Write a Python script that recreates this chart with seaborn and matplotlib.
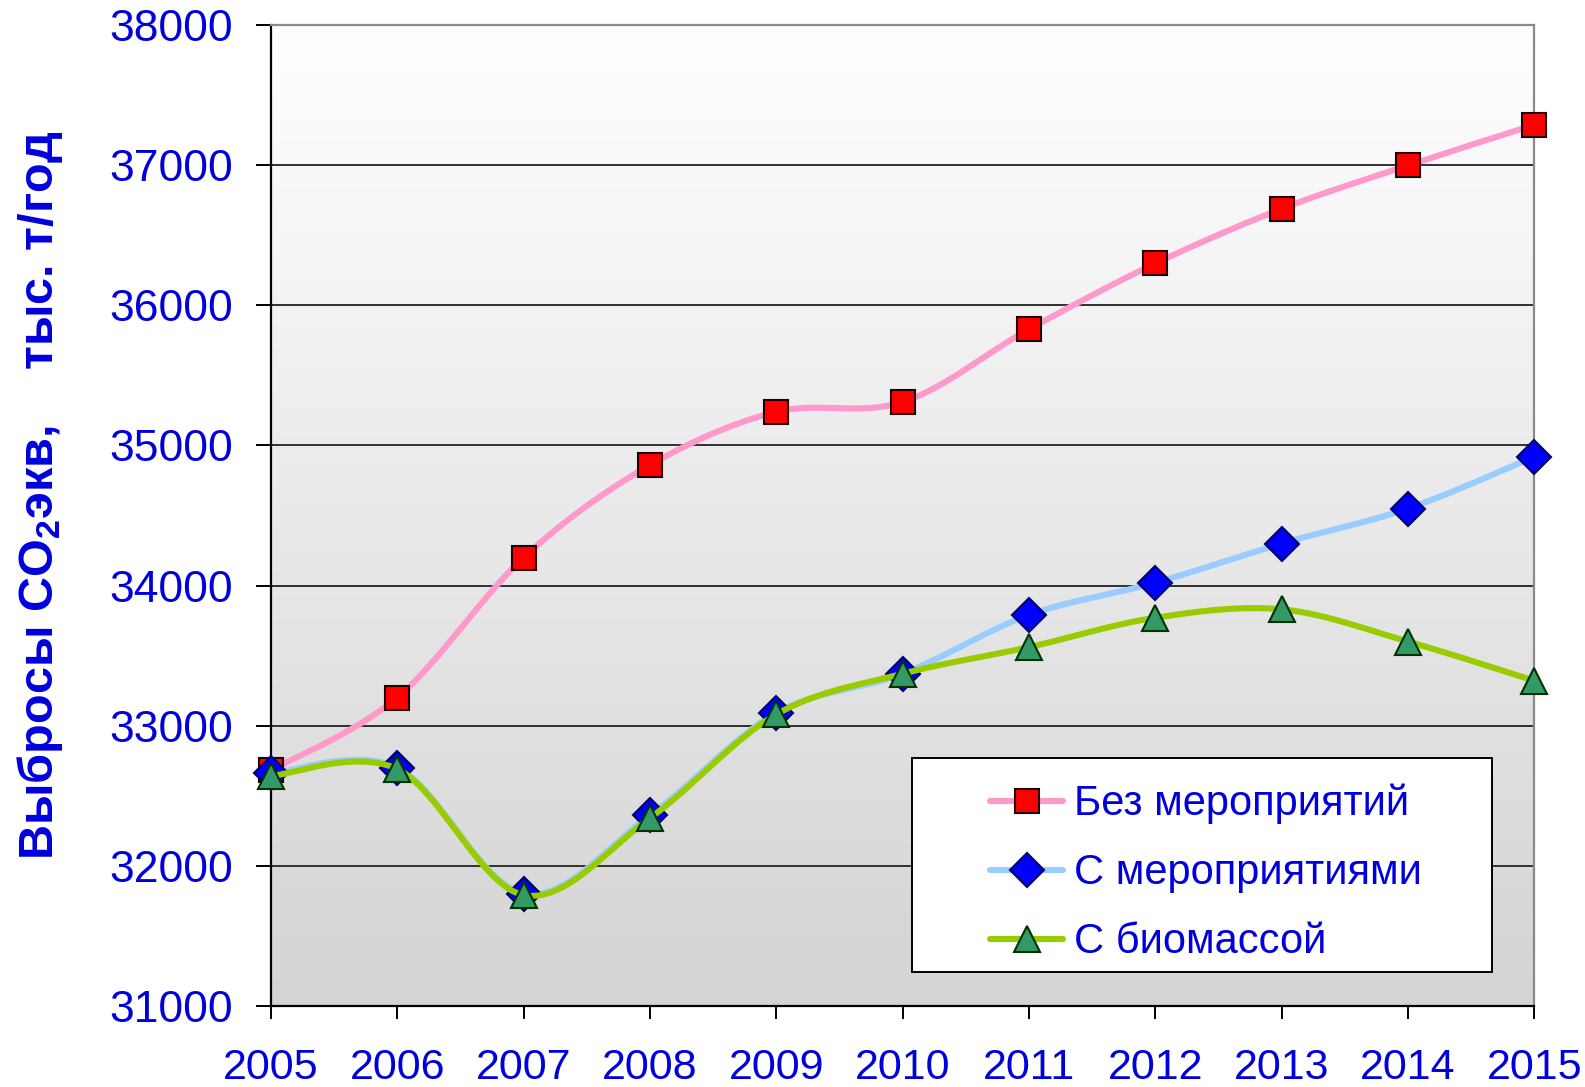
import numpy as np
import matplotlib
matplotlib.use("Agg")
import matplotlib.pyplot as plt
import seaborn as sns
from matplotlib.lines import Line2D
from matplotlib.patches import Rectangle
from matplotlib.colors import LinearSegmentedColormap

# --- data -----------------------------------------------------------------
years = [2005, 2006, 2007, 2008, 2009, 2010, 2011, 2012, 2013, 2014, 2015]
no_measures = [32680, 33200, 34200, 34860, 35240, 35310, 35830, 36300, 36690, 37000, 37290]
with_measures = [32660, 32700, 31800, 32360, 33090, 33370, 33790, 34020, 34300, 34550, 34920]
with_biomass = [32640, 32690, 31790, 32340, 33080, 33370, 33560, 33770, 33830, 33600, 33320]
series_labels = ["Без мероприятий", "С мероприятиями", "С биомассой"]
y_ticks = [31000, 32000, 33000, 34000, 35000, 36000, 37000, 38000]
y_label = r"Выбросы CO$_\mathregular{2}$экв,    тыс. т/год"

BLUE_TEXT = "#0000DD"

sns.set_style("white")
plt.rcParams["font.family"] = ["Liberation Sans", "DejaVu Sans"]
plt.rcParams["mathtext.default"] = "regular"


def smooth_curve(x, y, n=40):
    """Cubic Bezier through the points, Catmull-Rom control points."""
    p = np.column_stack([np.asarray(x, float), np.asarray(y, float)])
    pts = np.vstack([p[0], p, p[-1]])
    t = np.linspace(0, 1, n)[:, None]
    out = []
    for i in range(1, len(pts) - 2):
        p0, p1, p2, p3 = pts[i - 1], pts[i], pts[i + 1], pts[i + 2]
        c1 = p1 + (p2 - p0) / 6.0
        c2 = p2 - (p3 - p1) / 6.0
        seg = ((1 - t) ** 3) * p1 + 3 * ((1 - t) ** 2) * t * c1 \
            + 3 * (1 - t) * t ** 2 * c2 + t ** 3 * p2
        out.append(seg if i == 1 else seg[1:])
    out = np.vstack(out)
    return out[:, 0], out[:, 1]


fig = plt.figure(figsize=(15.85, 10.87), dpi=100)
ax = fig.add_axes([0.1709, 0.0748, 0.9681 - 0.1709, 0.9767 - 0.0748])

# gradient background of the plot area
grad_cmap = LinearSegmentedColormap.from_list("bg", ["#D4D4D4", "#FFFFFF"])
ax.imshow(np.linspace(0, 1, 256).reshape(-1, 1), cmap=grad_cmap, origin="lower",
          extent=[2005, 2015, 31000, 38000], aspect="auto", zorder=0,
          interpolation="bilinear")

styles = [
    dict(line="#FF99CC", marker="s", face="#FF0000", edge="#200000", ms=17),
    dict(line="#99CCFF", marker="D", face="#0000FF", edge="#000066", ms=17),
    dict(line="#99CC00", marker="^", face="#339966", edge="#003300", ms=19),
]

handles = []
for i, (vals, st) in enumerate(zip([no_measures, with_measures, with_biomass], styles)):
    sx, sy = smooth_curve(years, vals)
    sns.lineplot(x=sx, y=sy, sort=False, estimator=None, color=st["line"],
                 linewidth=4.4, ax=ax, zorder=3 + 2 * i)
    ax.plot(years, vals, linestyle="none", marker=st["marker"], markersize=st["ms"],
            markerfacecolor=st["face"], markeredgecolor=st["edge"], markeredgewidth=1.5,
            zorder=4 + 2 * i, clip_on=False)
    handles.append(Line2D([0], [0], color=st["line"], linewidth=4.4, marker=st["marker"],
                          markersize=st["ms"], markerfacecolor=st["face"],
                          markeredgecolor=st["edge"], markeredgewidth=1.5))

ax.set_xlim(2005, 2015)
ax.set_ylim(31000, 38000)
ax.set_xticks(years)
ax.set_yticks(y_ticks)
ax.set_xlabel("")
ax.set_ylabel("")

ax.yaxis.grid(True, color="#303030", linewidth=1.4)
ax.xaxis.grid(False)
ax.set_axisbelow(True)

for side in ["left", "bottom"]:
    ax.spines[side].set_color("black")
    ax.spines[side].set_linewidth(1.6)
for side in ["top", "right"]:
    ax.spines[side].set_visible(True)
    ax.spines[side].set_color("#8A8A8A")
    ax.spines[side].set_linewidth(1.6)

ax.tick_params(axis="y", direction="out", length=11, width=1.4, color="black",
               pad=16, labelsize=32, labelcolor=BLUE_TEXT, left=True)
ax.tick_params(axis="x", direction="out", length=9.5, width=1.4, color="black",
               pad=21, labelsize=31, labelcolor=BLUE_TEXT, bottom=True)

fig.text(40.5 / 1585, 1 - 495 / 1087, y_label, rotation=90, ha="center", va="center",
         fontsize=35, fontweight="bold", color=BLUE_TEXT)

# legend box
fig.add_artist(Rectangle((911.8 / 1585, 1 - 972.4 / 1087), (1492 - 911.8) / 1585,
                         (972.4 - 758.1) / 1087, transform=fig.transFigure,
                         facecolor="white", edgecolor="black", linewidth=1.4, zorder=5))
leg = fig.legend(handles, series_labels, loc="center",
                 bbox_to_anchor=(1206 / 1585, 1 - 873 / 1087), frameon=False,
                 fontsize=30, handlelength=1.75, handletextpad=0.25, labelspacing=0.7,
                 borderpad=0)
leg.set_zorder(6)
for t in leg.get_texts():
    t.set_color(BLUE_TEXT)

fig.savefig("out.png", dpi=100)
